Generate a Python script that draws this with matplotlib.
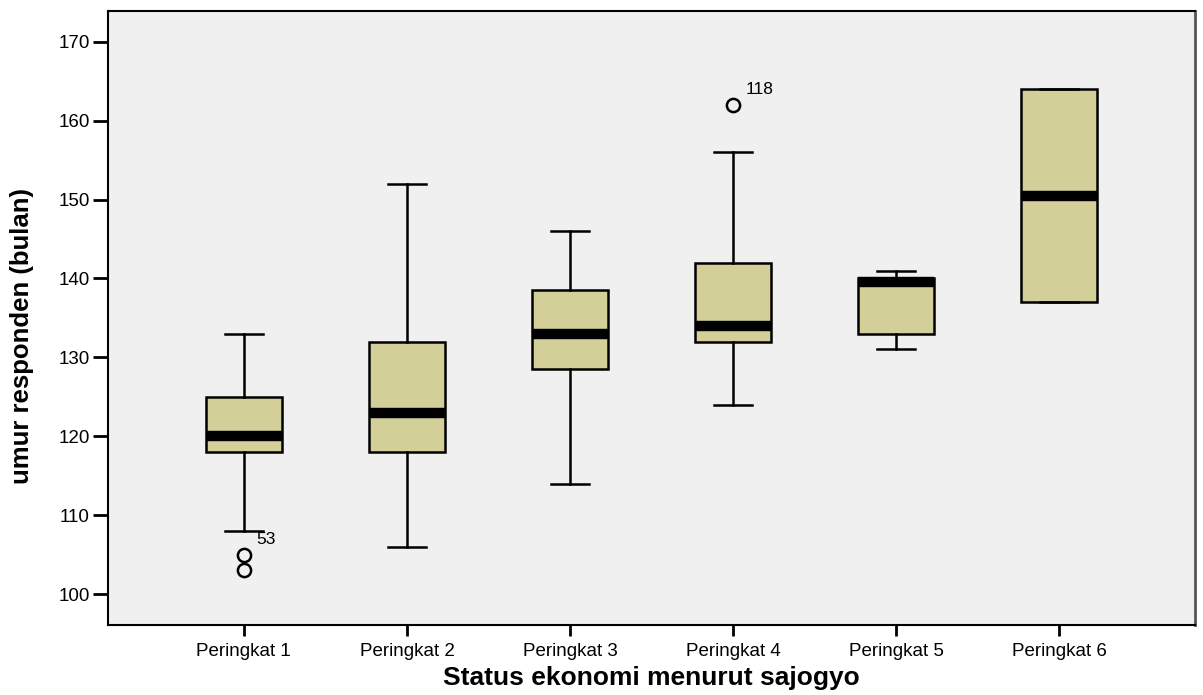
import matplotlib
matplotlib.use("Agg")
import matplotlib.pyplot as plt

# data
categories = ["Peringkat 1", "Peringkat 2", "Peringkat 3",
              "Peringkat 4", "Peringkat 5", "Peringkat 6"]
whisker_low = [108, 106, 114, 124, 131, 137]
q1 = [118, 118, 128.5, 132, 133, 137]
median = [120, 123, 133, 134, 139.5, 150.5]
q3 = [125, 132, 138.5, 142, 140, 164]
whisker_high = [133, 152, 146, 156, 141, 164]
outliers = [[105, 103], [], [], [162], [], []]
outlier_labels = [(0, 105, "53"), (3, 162, "118")]

yticks = [100, 110, 120, 130, 140, 150, 160, 170]

box_fill = "#D3CF99"
bg = "#F0F0F0"

plt.rcParams["font.family"] = ["Liberation Sans", "DejaVu Sans"]

stats = []
for i, name in enumerate(categories):
    stats.append({
        "label": name,
        "whislo": whisker_low[i],
        "q1": q1[i],
        "med": median[i],
        "q3": q3[i],
        "whishi": whisker_high[i],
        "fliers": outliers[i],
    })

fig = plt.figure(figsize=(12.03, 6.95), dpi=100)
ax = fig.add_axes([0.0898, 0.1007, 0.9036, 0.8835])
ax.set_facecolor(bg)

positions = list(range(1, len(categories) + 1))
ax.bxp(
    stats,
    positions=positions,
    widths=0.466,
    patch_artist=True,
    boxprops=dict(facecolor=box_fill, edgecolor="black", linewidth=1.8),
    medianprops=dict(color="black", linewidth=7.5),
    whiskerprops=dict(color="black", linewidth=1.8),
    capprops=dict(color="black", linewidth=1.8),
    capwidths=0.23,
    flierprops=dict(marker="o", markerfacecolor="none", markeredgecolor="black",
                    markersize=9.5, markeredgewidth=1.8),
)

for idx, val, txt in outlier_labels:
    ax.annotate(txt, (positions[idx], val), xytext=(9, 11),
                textcoords="offset points", fontsize=12.5, ha="left", va="center")

ax.set_xlim(0.167, 6.833)
ax.set_ylim(96.07, 173.9)
ax.set_yticks(yticks)
ax.set_xticks(positions)
ax.set_xticklabels(categories)

ax.tick_params(axis="y", length=11, width=2, labelsize=13.5, pad=2)
ax.tick_params(axis="x", length=8, width=2, labelsize=13.5, pad=5)
for side in ["left", "bottom", "top"]:
    ax.spines[side].set_linewidth(1.5)
ax.spines["right"].set_linewidth(2)
ax.spines["right"].set_color("#555555")

ax.set_xlabel("Status ekonomi menurut sajogyo", fontsize=19, fontweight="bold", labelpad=4)
ax.set_ylabel("umur responden (bulan)", fontsize=18.5, fontweight="bold")
ax.yaxis.set_label_coords(-0.068, 0.47)

fig.savefig("out.png", dpi=100)
